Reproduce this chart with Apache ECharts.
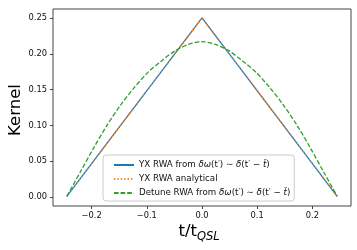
<!DOCTYPE html>
<html>
<head>
<meta charset="utf-8">
<script src="https://cdn.jsdelivr.net/npm/echarts@6/dist/echarts.min.js"></script>
<style>
html,body{margin:0;padding:0;background:#fff;}
#chart{width:357px;height:250px;}
</style>
</head>
<body>
<div id="chart"></div>
<script>
// ---- data ----
const seriesNames = [
  'YX RWA from δω(t′) ∼ δ(t′ − t̄)',
  'YX RWA analytical',
  'Detune RWA from δω(t′) ∼ δ(t′ − t̄)'
];
const triX = [-0.245, 0, 0.245];
const yxNumeric = [0.001, 0.25, 0.001];
const yxAnalytical = [0.001, 0.25, 0.001];
const detuneX = [-0.245, -0.2205, -0.196, -0.1715, -0.147, -0.1225, -0.098, -0.0735, -0.049, -0.0245, 0,
                 0.0245, 0.049, 0.0735, 0.098, 0.1225, 0.147, 0.1715, 0.196, 0.2205, 0.245];
const detune = [0.001, 0.035, 0.069, 0.101, 0.129, 0.153, 0.174, 0.190, 0.204, 0.213, 0.217,
                0.213, 0.204, 0.190, 0.174, 0.153, 0.129, 0.101, 0.069, 0.035, 0.001];
const xTickValues = [-0.2, -0.1, 0, 0.1, 0.2];
const xTickLabels = ['−0.2', '−0.1', '0.0', '0.1', '0.2'];
const yTickValues = [0, 0.05, 0.1, 0.15, 0.2, 0.25];
const yTickLabels = ['0.00', '0.05', '0.10', '0.15', '0.20', '0.25'];
const xTitleMain = 't/t';
const xTitleSub = 'QSL';
const yTitle = 'Kernel';

const FONT = 'DejaVu Sans';
function pairs(xs, ys) { return xs.map((x, i) => [x, ys[i]]); }
function labelFor(values, labels) {
  return function (v) {
    for (let i = 0; i < values.length; i++) if (Math.abs(values[i] - v) < 1e-9) return labels[i];
    return '';
  };
}
const legendRich = {
  'YX RWA from δω(t′) ∼ δ(t′ − t̄)': 'YX RWA from {i|δω}(t′) ∼ {i|δ}(t′ − {i|t̄})',
  'YX RWA analytical': 'YX RWA analytical',
  'Detune RWA from δω(t′) ∼ δ(t′ − t̄)': 'Detune RWA from {i|δω}(t′) ∼ {i|δ}(t′ − {i|t̄})'
};

const chart = echarts.init(document.getElementById('chart'), null, {renderer: 'canvas'});
chart.setOption({
  animation: false,
  backgroundColor: '#fff',
  grid: {left: 53, right: 6, top: 9, bottom: 44, show: true, borderColor: '#444', borderWidth: 1, backgroundColor: 'transparent'},
  xAxis: {
    type: 'value', min: -0.27, max: 0.27,
    axisLine: {show: false, onZero: false},
    splitLine: {show: false},
    axisTick: {show: true, length: 3, customValues: xTickValues, lineStyle: {color: '#444', width: 1}},
    axisLabel: {customValues: xTickValues, formatter: labelFor(xTickValues, xTickLabels),
                fontFamily: FONT, fontSize: 8.3, color: '#111', margin: 6}
  },
  yAxis: {
    type: 'value', min: -0.0125, max: 0.2625,
    axisLine: {show: false, onZero: false},
    splitLine: {show: false},
    axisTick: {show: true, length: 3, customValues: yTickValues, lineStyle: {color: '#444', width: 1}},
    axisLabel: {customValues: yTickValues, formatter: labelFor(yTickValues, yTickLabels),
                fontFamily: FONT, fontSize: 8.3, color: '#111', margin: 6}
  },
  legend: {
    orient: 'vertical', left: 103, top: 155,
    itemWidth: 20, itemHeight: 10, itemGap: 4,
    padding: [5, 4, 3, 10],
    backgroundColor: 'rgba(255,255,255,0.8)',
    borderColor: '#ccc', borderWidth: 1, borderRadius: 3,
    itemStyle: {color: 'rgba(0,0,0,0)', borderColor: 'rgba(0,0,0,0)', borderWidth: 0, opacity: 0},
    data: seriesNames,
    formatter: function (name) { return legendRich[name] || name; },
    textStyle: {fontFamily: FONT, fontSize: 8.7, color: '#111', lineHeight: 10,
      rich: {i: {fontFamily: FONT, fontSize: 8.7, fontStyle: 'italic', color: '#111', lineHeight: 10}}}
  },
  graphic: [
    {type: 'text', x: 197, y: 232, style: {text: xTitleMain, font: '16.5px "DejaVu Sans"', fill: '#000', textAlign: 'right', textVerticalAlign: 'middle'}},
    {type: 'text', x: 197, y: 237, style: {text: xTitleSub, font: 'italic 11.5px "DejaVu Sans"', fill: '#000', textAlign: 'left', textVerticalAlign: 'middle'}},
    {type: 'text', x: 16, y: 110, rotation: Math.PI / 2, style: {text: yTitle, font: '16.5px "DejaVu Sans"', fill: '#000', textAlign: 'center', textVerticalAlign: 'middle'}}
  ],
  series: [
    {name: seriesNames[0], type: 'line', data: pairs(triX, yxNumeric), symbol: 'none', showSymbol: false,
     lineStyle: {color: '#1f77b4', width: 1.3, type: 'solid'}, itemStyle: {color: '#1f77b4'}, z: 2},
    {name: seriesNames[1], type: 'line', data: pairs(triX, yxAnalytical), symbol: 'none', showSymbol: false,
     lineStyle: {color: '#ff7f0e', width: 1.3, type: [1.3, 2.1]}, itemStyle: {color: '#ff7f0e'}, z: 3},
    {name: seriesNames[2], type: 'line', data: pairs(detuneX, detune), symbol: 'none', showSymbol: false, smooth: 0.3,
     lineStyle: {color: '#2ca02c', width: 1.3, type: [4.6, 2]}, itemStyle: {color: '#2ca02c'}, z: 4}
  ]
});
</script>
</body>
</html>
